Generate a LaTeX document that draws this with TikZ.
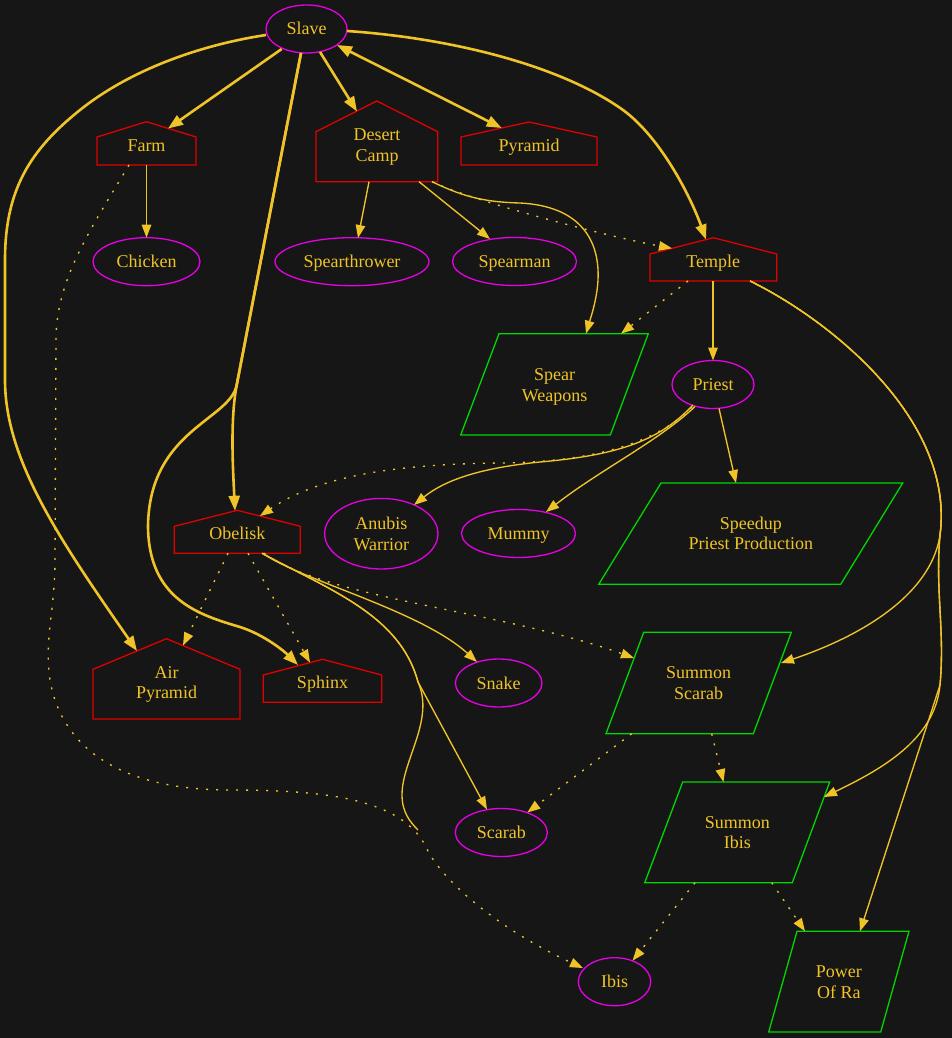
\documentclass[tikz,border=0pt]{standalone}
\usepackage{fontspec}
\setmainfont{Liberation Serif}
\usetikzlibrary{arrows.meta,shapes.geometric,calc}
\definecolor{bgc}{RGB}{22,22,22}
\definecolor{gold}{RGB}{240,196,40}
\definecolor{hred}{RGB}{224,0,0}
\definecolor{emag}{RGB}{230,0,230}
\definecolor{pgreen}{RGB}{0,214,0}
\tikzset{
  lbl/.style={text=gold, font=\fontsize{18}{20.5}\selectfont, inner sep=0pt, align=center},
  one/.style={text height=12pt, text depth=0pt},
  ell/.style={lbl, ellipse, draw=emag, line width=1.3pt},
  houseline/.style={draw=hred, line width=1.3pt},
  paraline/.style={draw=pgreen, line width=1.3pt},
  edge/.style={draw=gold, line width=1.35pt, -{Triangle[length=13pt,width=9.5pt]}},
  fat/.style={draw=gold, line width=2.6pt, -{Triangle[length=15pt,width=11pt]}},
  dots/.style={edge, dash pattern=on 2pt off 8pt},
  plain/.style={draw=gold, line width=1.35pt},
}
\newcommand\hut[5]{\draw[houseline] (#1,#5) -- (#1,#4) -- ({(#1+#2)/2},#3) -- (#2,#4) -- (#2,#5) -- cycle;}
\newcommand\pgram[6]{\draw[paraline] (#1,#5) -- (#2,#5) -- (#3,#6) -- (#4,#6) -- cycle;}
\begin{document}
\begin{tikzpicture}[x=1pt,y=-1pt]
\fill[bgc] (0,0) rectangle (952,1038);
\useasboundingbox (0,0) rectangle (952,1038);

% ---- ellipse nodes
\node[ell,one,minimum width=81pt,minimum height=48pt] (slave) at (306.5,29) {Slave};
\node[ell,one,minimum width=107pt,minimum height=48pt] (chicken) at (146.5,261.7) {Chicken};
\node[ell,one,minimum width=154pt,minimum height=48pt] (spearthrower) at (352,261.7) {Spearthrower};
\node[ell,one,minimum width=124pt,minimum height=48pt] (spearman) at (514.5,261.5) {Spearman};
\node[ell,one,minimum width=82pt,minimum height=48pt] (priest) at (713,384.5) {Priest};
\node[ell,one,minimum width=114pt,minimum height=48pt] (mummy) at (518.5,533.5) {Mummy};
\node[ell,minimum width=113.4pt,minimum height=70.6pt] (anubis) at (381.3,533.7) {Anubis\\Warrior};
\node[ell,one,minimum width=86.6pt,minimum height=48pt] (snake) at (498.7,683) {Snake};
\node[ell,one,minimum width=92pt,minimum height=48pt] (scarab) at (501.3,832.5) {Scarab};
\node[ell,one,minimum width=72.4pt,minimum height=48pt] (ibis) at (614.5,981.7) {Ibis};

% ---- house nodes
\hut{97}{196}{121.7}{137}{165}
\node[lbl,one] (farm) at (146.5,145.7) {Farm};
\hut{316}{437.7}{101}{131.7}{181.7}
\node[lbl] (dcamp) at (377,147.1) {Desert\\Camp};
\hut{461}{597}{122}{137}{165}
\node[lbl,one] (pyramid) at (529,145.7) {Pyramid};
\hut{650}{776.7}{237.7}{254}{281}
\node[lbl,one] (temple) at (713.3,261.7) {Temple};
\hut{174.3}{300.3}{510.3}{526.3}{553.3}
\node[lbl,one] (obelisk) at (237.3,533.3) {Obelisk};
\hut{93}{240}{638.7}{669.3}{719}
\node[lbl] (airpyr) at (166.5,684.5) {Air\\Pyramid};
\hut{263.3}{381.7}{659.3}{675}{702.3}
\node[lbl,one] (sphinx) at (322.5,682) {Sphinx};

% ---- parallelogram nodes
\pgram{499}{648.3}{610.3}{460.7}{333.7}{435}
\node[lbl] (spearw) at (554.6,386.8) {Spear\\Weapons};
\pgram{661}{902.7}{840.7}{598.7}{483}{584.3}
\node[lbl] (speedup) at (750.8,533.5) {Speedup\\Priest Production};
\pgram{643.7}{791.3}{753.3}{606}{632.3}{733.7}
\node[lbl] (sscarab) at (698.6,683) {Summon\\Scarab};
\pgram{682.7}{829.7}{792.3}{644.7}{782}{882.7}
\node[lbl] (sibis) at (737.4,832.7) {Summon\\Ibis};
\pgram{797}{909}{880.7}{768.7}{931.3}{1032}
\node[lbl] (powerra) at (838.9,982) {Power\\Of Ra};

% ---- routing points
\coordinate (v1) at (236.7,385);
\coordinate (v2) at (418,682);
\coordinate (v3) at (940,535);
\coordinate (v4) at (940,685);
\coordinate (loose) at (418,830);

% ---- thick edges from Slave
\draw[fat] ($(slave)+(-24.8,20)$) -- ($(farm)+(21.5,-17.2)$);
\draw[fat] ($(slave)+(13.5,23)$) -- ($(dcamp)+(-20,-35.6)$);
\draw[fat,{Triangle[length=15pt,width=11pt]}-{Triangle[length=15pt,width=11pt]}] ($(slave)+(30.5,16)$) -- ($(pyramid)+(-27.3,-17.7)$);
\draw[fat] ($(slave)+(40.5,2)$) .. controls (450,38) and (560,65) .. (623,110)
   .. controls (660,137) and (690,195) .. ($(temple)+(-7.3,-22.2)$);
\draw[fat] ($(slave)+(-40.5,6)$) .. controls (200,45) and (130,70) .. (80,110)
   .. controls (30,150) and (5,190) .. (5,260) -- (5,380)
   .. controls (5,460) and (60,540) .. ($(airpyr)+(-29.5,-33.5)$);
\draw[fat] ($(slave)+(-5.5,24)$) -- (v1) .. controls (230,420) and (233,470) .. ($(obelisk)+(-2.3,-22.5)$);
\draw[fat] ($(slave)+(-5.5,24)$) -- (v1) .. controls (230,420) and (150,430) .. (148,525)
   .. controls (148,600) and (200,615) .. (240,627)
   .. controls (265,635) and (285,652) .. ($(sphinx)+(-24.5,-17)$);

% ---- Farm
\draw[edge] ($(farm)+(0,19.3)$) -- ($(chicken)+(0,-24)$);
\draw[dots] ($(farm)+(-17.5,19.3)$) .. controls (90,230) and (56,280) .. (56,340) -- (55,560)
   .. controls (55,610) and (44,640) .. (50,680)
   .. controls (60,740) and (110,790) .. (230,790)
   .. controls (330,790) and (400,800) .. (425,845)
   .. controls (440,880) and (500,930) .. ($(ibis)+(-31.5,-13.7)$);

% ---- Desert Camp
\draw[edge] ($(dcamp)+(-8,34.6)$) -- ($(spearthrower)+(6,-23.7)$);
\draw[edge] ($(dcamp)+(42,34.6)$) -- ($(spearman)+(-24.5,-22.5)$);
\draw[edge] ($(dcamp)+(55,34.6)$) .. controls (460,195) and (480,202) .. (520,203)
   .. controls (580,206) and (600,240) .. (598,280)
   .. controls (597,300) and (590,320) .. ($(spearw)+(31.4,-53.1)$);
\draw[dots] ($(dcamp)+(55,34.6)$) .. controls (470,200) and (600,235) .. ($(temple)+(-41.3,-13.4)$);

% ---- Temple
\draw[edge] ($(temple)+(-0.3,19.3)$) -- ($(priest)+(0,-24)$);
\draw[dots] ($(temple)+(-25.3,19.3)$) -- ($(spearw)+(66.4,-53.1)$);
\draw[edge] ($(temple)+(36.7,19.3)$) .. controls (830,320) and (955,420) .. (v3)
   .. controls (930,600) and (850,640) .. ($(sscarab)+(82.4,-20)$);
\draw[edge] ($(temple)+(36.7,19.3)$) .. controls (830,320) and (955,420) .. (v3)
   .. controls (935,590) and (945,630) .. (v4)
   .. controls (935,740) and (880,770) .. ($(sibis)+(86.6,-35.7)$);
\draw[edge] ($(temple)+(36.7,19.3)$) .. controls (830,320) and (955,420) .. (v3)
   .. controls (935,590) and (945,630) .. (v4) -- ($(powerra)+(21.1,-50.7)$);

% ---- Priest
\draw[edge] ($(priest)+(6,24)$) -- ($(speedup)+(-14.8,-50.5)$);
\draw[edge] ($(priest)+(-18,22)$) .. controls (660,440) and (600,470) .. ($(mummy)+(27.5,-21.5)$);
\draw[edge] ($(priest)+(-20,20.5)$) .. controls (660,440) and (620,455) .. (540,462)
   .. controls (480,468) and (445,480) .. ($(anubis)+(32.7,-28.7)$);
\draw[dots] ($(priest)+(-21,22.5)$) .. controls (660,440) and (600,462) .. (500,463)
   .. controls (400,464) and (320,475) .. ($(obelisk)+(22.7,-17.3)$);

% ---- Obelisk
\draw[edge] ($(obelisk)+(25.7,20)$) .. controls (300,580) and (420,610) .. ($(snake)+(-21.7,-21)$);
\draw[edge] ($(obelisk)+(24.7,20)$) .. controls (330,590) and (400,615) .. (v2) -- ($(scarab)+(-14.3,-23)$);
\draw[plain] ($(obelisk)+(24.7,20)$) .. controls (330,590) and (400,615) .. (v2)
   .. controls (435,720) and (402,760) .. (402,795)
   .. controls (402,812) and (410,822) .. (loose);
\draw[dots] ($(obelisk)+(-9.3,20)$) -- ($(airpyr)+(16.5,-39)$);
\draw[dots] ($(obelisk)+(10.7,20)$) -- ($(sphinx)+(-12.5,-19.4)$);
\draw[dots] ($(obelisk)+(26.7,20)$) .. controls (330,600) and (500,610) .. ($(sscarab)+(-64.6,-25)$);

% ---- Summon Scarab / Summon Ibis
\draw[dots] ($(sscarab)+(-66.9,50.7)$) -- ($(scarab)+(26,-20)$);
\draw[dots] ($(sscarab)+(13.1,50.7)$) -- ($(sibis)+(-13.9,-50.7)$);
\draw[dots] ($(sibis)+(-42.4,50)$) -- ($(ibis)+(18,-21)$);
\draw[dots] ($(sibis)+(34.3,50)$) -- ($(powerra)+(-33.9,-50.7)$);
\end{tikzpicture}
\end{document}
